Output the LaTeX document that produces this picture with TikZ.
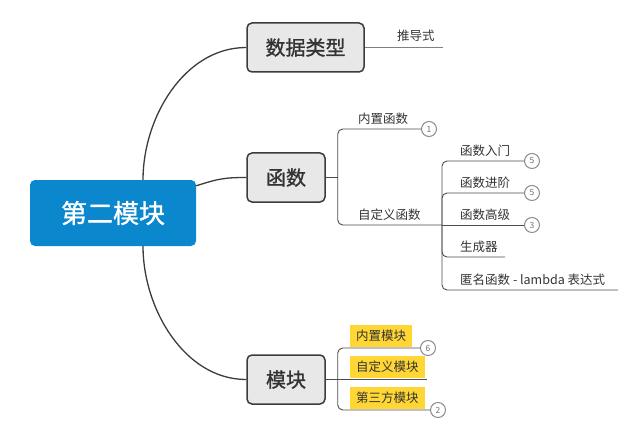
\documentclass[tikz,border=0pt]{standalone}
\usepackage{fontspec}
\newfontfamily\cjk{Noto Sans CJK SC}
\newfontfamily\cjkheavy[FakeBold=1.2]{Noto Sans CJK SC}
\usetikzlibrary{positioning,calc}
\definecolor{rootblue}{HTML}{0B87CE}
\definecolor{topicgray}{HTML}{E8E8E8}
\definecolor{linegray}{HTML}{3C3C3C}
\definecolor{tagyellow}{HTML}{FFD633}

\begin{document}
\begin{tikzpicture}[x=1pt, y=-1pt, font=\cjk,
    root/.style={fill=rootblue, rounded corners=5pt, text=white, font=\cjkheavy\fontsize{26}{30}\selectfont, minimum width=166pt, minimum height=66pt},
    topic/.style={draw=linegray, line width=1.5pt, fill=topicgray, rounded corners=5pt, text=black!80, font=\cjkheavy\fontsize{20}{24}\selectfont, minimum height=49pt},
    sub/.style={text=black!80, font=\cjk\fontsize{12.5}{15}\selectfont, inner xsep=0pt, inner ysep=4pt, anchor=south west},
    tag/.style={sub, fill=tagyellow, inner xsep=6pt, inner ysep=0pt, minimum height=22pt},
    count/.style={circle, draw=black!45, fill=white, line width=1pt, minimum size=15pt, inner sep=0pt, text=black!55, font=\cjk\fontsize{8.5}{9}\selectfont},
    main/.style={draw=linegray, line width=1.3pt},
    branch/.style={draw=black!70, line width=0.9pt, rounded corners=5pt}]
  \useasboundingbox (0,0) rectangle (629,433);

  % topics
  \node[root] (root) at (113,213) {第二模块};
  \node[topic, minimum width=117pt] (dtype) at (305.5,47.5) {数据类型};
  \node[topic, minimum width=78pt] (func) at (286,177.5) {函数};
  \node[topic, minimum width=78pt] (mod) at (286,379.5) {模块};

  \draw[main] ($(root.north)+(30,0)$) .. controls +(0,-62) and +(-62,0) .. (dtype.west);
  \draw[main] ($(root.north east)+(0,6)$) .. controls +(22,-7) and +(-22,0) .. (func.west);
  \draw[main] ($(root.south)+(30,0)$) .. controls +(0,62) and +(-62,0) .. (mod.west);

  % 数据类型
  \coordinate (dend) at ($(dtype.east)+(78,0)$);
  \node[sub, inner ysep=6pt] (derive) at (397,47.5) {推导式};
  \draw[branch, draw=black!50, line width=1.2pt] (dtype.east) -- (dend);

  % 函数
  \coordinate (fj) at ($(func.east)+(12,0)$);
  \coordinate (sj) at (442,225);
  \node[count] (c1) at (429,129) {1};
  \node[sub] (builtin) at (358,129) {内置函数};
  \node[sub] (custom) at (358,225) {自定义函数};
  \draw[branch] (func.east) -- (fj);
  \draw[branch] (fj) |- (c1.west);
  \draw[branch] (fj) |- (sj);

  \node[count] (c5a) at (532,161) {5};
  \node[count] (c5b) at (532,193) {5};
  \node[count] (c3) at (532,225) {3};
  \coordinate (gend) at (505,257);
  \coordinate (lend) at (618,290);
  \node[sub] (intro) at (460,161) {函数入门};
  \node[sub] (adv) at (460,193) {函数进阶};
  \node[sub] (high) at (460,225) {函数高级};
  \node[sub] (gen) at (460,257) {生成器};
  \node[sub] (lambda) at (460,290) {匿名函数 - lambda 表达式};
  \draw[branch] (sj) |- (c5a.west);
  \draw[branch] (sj) |- (c5b.west);
  \draw[branch] (sj) -- (c3.west);
  \draw[branch] (sj) |- (gend);
  \draw[branch] (sj) |- (lend);

  % 模块
  \coordinate (mj) at ($(mod.east)+(12,0)$);
  \node[tag] (m1) at (350,347) {内置模块};
  \node[tag] (m2) at (350,378) {自定义模块};
  \node[tag] (m3) at (350,409) {第三方模块};
  \node[count] (c6) at (428,348) {6};
  \node[count] (c2) at (438,410) {2};
  \coordinate (m2end) at (427,379.5);
  \draw[branch] (mod.east) -- (mj);
  \draw[branch] (mj) |- (c6.west);
  \draw[branch] (mj) -- (m2end);
  \draw[branch] (mj) |- (c2.west);
\end{tikzpicture}
\end{document}
